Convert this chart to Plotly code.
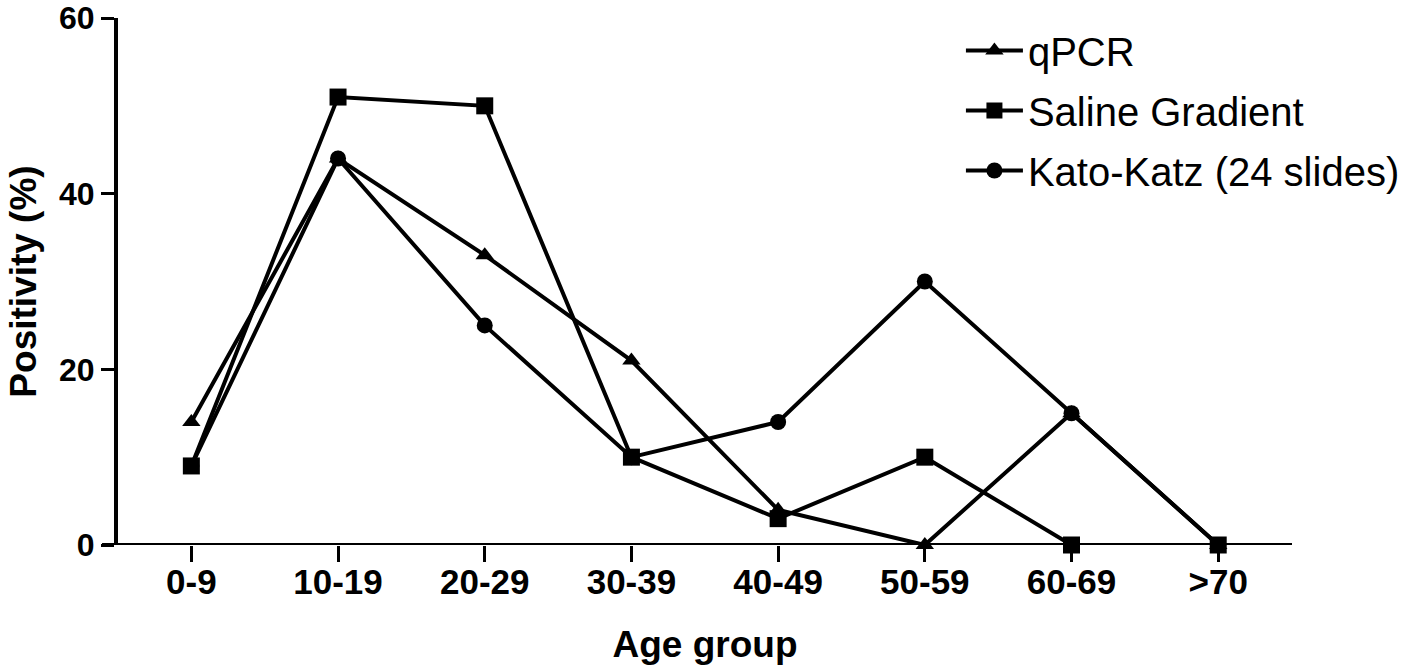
import plotly.graph_objects as go

age_groups = ["0-9", "10-19", "20-29", "30-39", "40-49", "50-59", "60-69", ">70"]
qpcr = [14, 44, 33, 21, 4, 0, 15, 0]
saline = [9, 51, 50, 10, 3, 10, 0, 0]
kato_katz = [9, 44, 25, 10, 14, 30, 15, 0]
y_ticks = [0, 20, 40, 60]

FONT = "Liberation Sans, Arial, sans-serif"

fig = go.Figure()
series = [
    ("qPCR", qpcr, "triangle-up", 16),
    ("Saline Gradient", saline, "square", 17),
    ("Kato-Katz (24 slides)", kato_katz, "circle", 16),
]
for i, (name, vals, sym, msize) in enumerate(series):
    fig.add_trace(go.Scatter(
        x=age_groups, y=vals, name=name, mode="lines+markers",
        legendgroup=f"g{i}",
        line=dict(color="black", width=4),
        marker=dict(symbol=sym, size=msize, color="black"),
        cliponaxis=False,
    ))

# x-axis baseline extending slightly left of the y-axis (GraphPad style)
fig.add_shape(type="line", xref="paper", yref="y", x0=-0.0136, x1=1.0, y0=0, y1=0,
              line=dict(color="black", width=4), layer="above")

fig.update_layout(
    width=1417, height=669,
    margin=dict(l=118, r=121, t=18, b=124),
    paper_bgcolor="white", plot_bgcolor="white",
    font=dict(family=FONT, color="black"),
    showlegend=True,
    legend=dict(
        x=0.718, y=1.0, xanchor="left", yanchor="top",
        font=dict(family=FONT, size=40, color="black"),
        bgcolor="rgba(0,0,0,0)", itemwidth=57,
        tracegroupgap=5, traceorder="grouped",
    ),
    xaxis=dict(
        type="category", range=[-0.5, 7.503], automargin=False,
        showline=False, showgrid=False, zeroline=False,
        ticks="outside", ticklen=16, tickwidth=3, tickcolor="black",
        ticklabelstandoff=-10, ticklabeloverflow="allow",
        tickfont=dict(family=FONT, size=35, color="black", weight="bold"),
        title=dict(text="<b>Age group</b>", font=dict(family=FONT, size=37, color="black"), standoff=31),
    ),
    yaxis=dict(
        range=[0, 60], tickvals=y_ticks, automargin=False,
        showline=True, linewidth=4, linecolor="black",
        showgrid=False, zeroline=False,
        ticks="outside", ticklen=13, tickwidth=3, tickcolor="black",
        ticklabeloverflow="allow",
        tickfont=dict(family=FONT, size=32, color="black", weight="bold"),
        title=dict(text="<b>Positivity (%)</b>", font=dict(family=FONT, size=37, color="black"), standoff=12),
    ),
)

fig.write_html("out.html", post_script="document.body.style.margin='0';",
               config={"displayModeBar": False})
